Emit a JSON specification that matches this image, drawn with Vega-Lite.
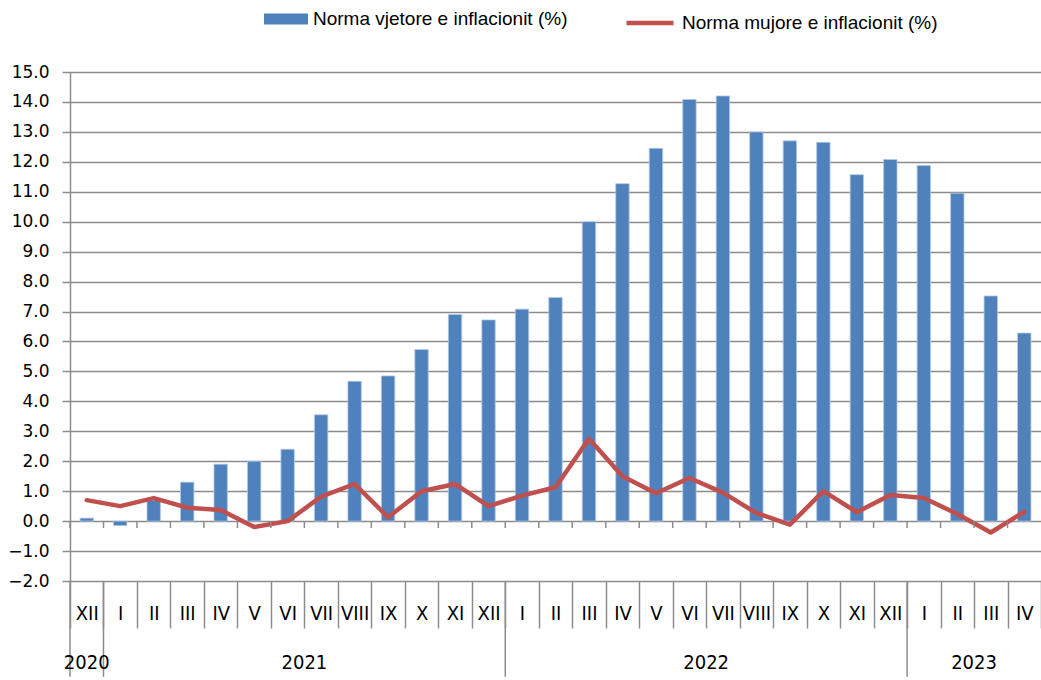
{
  "$schema": "https://vega.github.io/schema/vega-lite/v6.json",
  "width": 971,
  "height": 509,
  "autosize": {"type": "none"},
  "padding": {"left": 70, "top": 72, "right": 0, "bottom": 99},
  "background": "white",
  "config": {
    "view": {"stroke": null},
    "font": "Liberation Sans",
    "axisY": {
      "tickCount": 20, "labelOverlap": false, "format": ".1f",
      "grid": true, "gridColor": "#8c8c8c", "gridWidth": 1.5,
      "domain": true, "domainColor": "#8c8c8c", "domainWidth": 1.5,
      "ticks": true, "tickSize": 8, "tickColor": "#8c8c8c", "tickWidth": 1.5,
      "labelFont": "DejaVu Sans", "labelFontSize": 17, "labelColor": "#000000", "labelPadding": 13,
      "title": null
    }
  },
  "data": {
    "values": [
      {"i": 0, "year": "2020", "month": "XII", "key": "2020-12 XII", "annual": 0.1, "monthly": 0.7},
      {"i": 1, "year": "2021", "month": "I", "key": "2021-01 I", "annual": -0.15, "monthly": 0.5},
      {"i": 2, "year": "2021", "month": "II", "key": "2021-02 II", "annual": 0.7, "monthly": 0.77},
      {"i": 3, "year": "2021", "month": "III", "key": "2021-03 III", "annual": 1.3, "monthly": 0.45},
      {"i": 4, "year": "2021", "month": "IV", "key": "2021-04 IV", "annual": 1.9, "monthly": 0.37},
      {"i": 5, "year": "2021", "month": "V", "key": "2021-05 V", "annual": 2.0, "monthly": -0.2},
      {"i": 6, "year": "2021", "month": "VI", "key": "2021-06 VI", "annual": 2.4, "monthly": 0.0},
      {"i": 7, "year": "2021", "month": "VII", "key": "2021-07 VII", "annual": 3.55, "monthly": 0.82},
      {"i": 8, "year": "2021", "month": "VIII", "key": "2021-08 VIII", "annual": 4.67, "monthly": 1.24},
      {"i": 9, "year": "2021", "month": "IX", "key": "2021-09 IX", "annual": 4.85, "monthly": 0.13},
      {"i": 10, "year": "2021", "month": "X", "key": "2021-10 X", "annual": 5.73, "monthly": 1.0},
      {"i": 11, "year": "2021", "month": "XI", "key": "2021-11 XI", "annual": 6.9, "monthly": 1.24},
      {"i": 12, "year": "2021", "month": "XII", "key": "2021-12 XII", "annual": 6.72, "monthly": 0.5},
      {"i": 13, "year": "2022", "month": "I", "key": "2022-01 I", "annual": 7.08, "monthly": 0.85},
      {"i": 14, "year": "2022", "month": "II", "key": "2022-02 II", "annual": 7.47, "monthly": 1.13},
      {"i": 15, "year": "2022", "month": "III", "key": "2022-03 III", "annual": 10.0, "monthly": 2.75},
      {"i": 16, "year": "2022", "month": "IV", "key": "2022-04 IV", "annual": 11.27, "monthly": 1.5},
      {"i": 17, "year": "2022", "month": "V", "key": "2022-05 V", "annual": 12.45, "monthly": 0.93},
      {"i": 18, "year": "2022", "month": "VI", "key": "2022-06 VI", "annual": 14.08, "monthly": 1.44},
      {"i": 19, "year": "2022", "month": "VII", "key": "2022-07 VII", "annual": 14.2, "monthly": 0.95},
      {"i": 20, "year": "2022", "month": "VIII", "key": "2022-08 VIII", "annual": 13.0, "monthly": 0.27},
      {"i": 21, "year": "2022", "month": "IX", "key": "2022-09 IX", "annual": 12.7, "monthly": -0.12},
      {"i": 22, "year": "2022", "month": "X", "key": "2022-10 X", "annual": 12.65, "monthly": 1.0},
      {"i": 23, "year": "2022", "month": "XI", "key": "2022-11 XI", "annual": 11.57, "monthly": 0.3},
      {"i": 24, "year": "2022", "month": "XII", "key": "2022-12 XII", "annual": 12.08, "monthly": 0.87},
      {"i": 25, "year": "2023", "month": "I", "key": "2023-01 I", "annual": 11.88, "monthly": 0.77},
      {"i": 26, "year": "2023", "month": "II", "key": "2023-02 II", "annual": 10.95, "monthly": 0.24},
      {"i": 27, "year": "2023", "month": "III", "key": "2023-03 III", "annual": 7.52, "monthly": -0.38},
      {"i": 28, "year": "2023", "month": "IV", "key": "2023-04 IV", "annual": 6.28, "monthly": 0.31}
    ]
  },
  "resolve": {"scale": {"x": "independent"}},
  "layer": [
    {
      "layer": [
        {
          "mark": {"type": "bar", "width": {"band": 0.4}, "stroke": "#b4c8e4", "strokeWidth": 0.8},
          "encoding": {
            "x": {
              "field": "key", "type": "nominal",
              "scale": {"paddingInner": 0, "paddingOuter": 0},
              "axis": {
                "title": null, "domain": false, "grid": false,
                "ticks": true, "tickBand": "extent", "tickSize": 47, "tickColor": "#8c8c8c", "tickWidth": 1.5,
                "labelExpr": "datum.value ? substring(datum.value, 8) : ''",
                "labelAngle": 0, "labelFont": "DejaVu Sans Condensed, Liberation Sans", "labelFontSize": 20,
                "labelColor": "#000000", "labelBaseline": "middle", "labelPadding": -15,
                "labelOverlap": false, "labelFlush": false
              }
            },
            "y": {
              "field": "annual", "type": "quantitative",
              "scale": {"domain": [-2, 15], "nice": false, "zero": false},
              "axis": {"values": [-2, -1, 0, 1, 2, 3, 4, 5, 6, 7, 8, 9, 10, 11, 12, 13, 14, 15], "tickCount": 20}
            },
            "fill": {
              "datum": "Norma vjetore e inflacionit (%)",
              "scale": {"range": ["#4F81BD"]},
              "legend": {
                "title": null, "orient": "none", "legendX": 194, "legendY": -75,
                "symbolType": "M-1,-0.25L1,-0.25L1,0.25L-1,0.25Z", "symbolSize": 1936,
                "symbolStrokeWidth": 0, "labelFont": "Liberation Sans", "labelFontSize": 19,
                "labelColor": "#000000", "labelOffset": 5, "labelLimit": 600, "padding": 0
              }
            }
          }
        },
        {
          "mark": {"type": "line", "strokeWidth": 4.5, "strokeJoin": "round", "strokeCap": "round"},
          "encoding": {
            "x": {"field": "key", "type": "nominal"},
            "y": {"field": "monthly", "type": "quantitative"},
            "stroke": {
              "datum": "Norma mujore e inflacionit (%)",
              "scale": {"range": ["#C0504D"]},
              "legend": {
                "title": null, "orient": "none", "legendX": 554, "legendY": -75,
                "symbolType": "stroke", "symbolSize": 2209, "symbolStrokeWidth": 4.5,
                "labelFont": "Liberation Sans", "labelFontSize": 19,
                "labelColor": "#000000", "labelOffset": 6, "labelLimit": 600, "padding": 0
              }
            }
          }
        },
        {
          "mark": {"type": "rule", "color": "#8c8c8c", "strokeWidth": 1.5},
          "encoding": {
            "x": {"field": "key", "type": "nominal", "bandPosition": 0},
            "y": {"datum": 0},
            "y2": {"datum": -0.23}
          }
        },
        {
          "transform": [{"filter": "datum.month === 'I' || datum.i === 0"}],
          "mark": {"type": "rule", "color": "#8c8c8c", "strokeWidth": 1.5},
          "encoding": {
            "x": {"field": "key", "type": "nominal", "bandPosition": 0},
            "y": {"datum": -2},
            "y2": {"datum": -5.2}
          }
        }
      ]
    },
    {
      "transform": [{"aggregate": [{"op": "mean", "field": "i", "as": "mi"}], "groupby": ["year"]}],
      "mark": {"type": "text", "font": "DejaVu Sans Condensed, Liberation Sans", "fontSize": 20, "color": "#000000", "baseline": "middle", "align": "center"},
      "encoding": {
        "x": {"field": "mi", "type": "quantitative", "scale": {"domain": [-0.5, 28.5], "nice": false, "zero": false}, "axis": null},
        "y": {"datum": -4.74},
        "text": {"field": "year"}
      }
    }
  ]
}
